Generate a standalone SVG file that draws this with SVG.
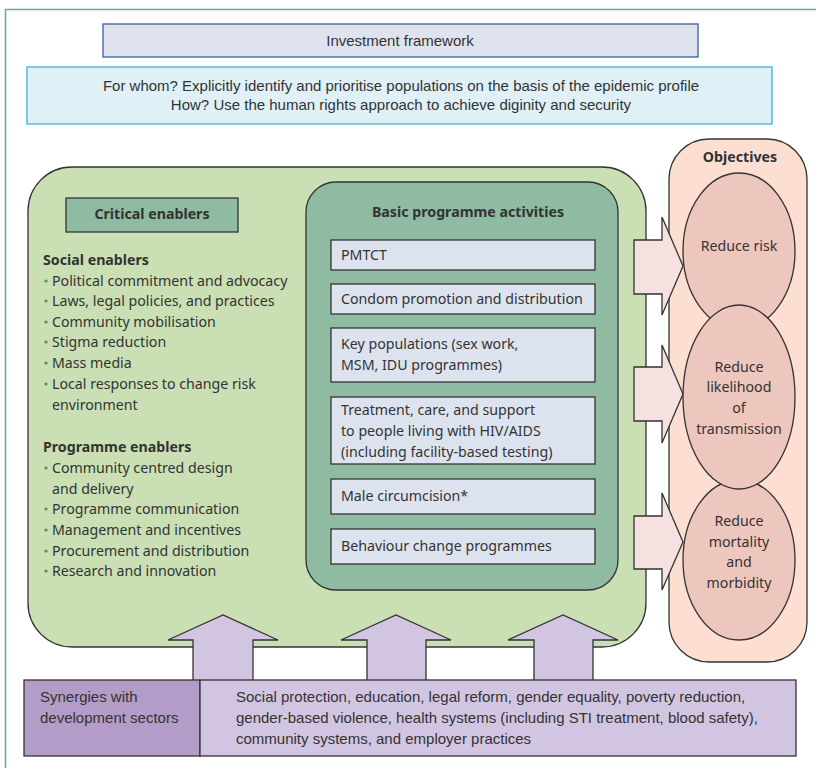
<svg xmlns="http://www.w3.org/2000/svg" width="816" height="768" viewBox="0 0 816 768">
<defs>
<style>
text{font-family:"Noto Sans","Liberation Sans",sans-serif;fill:#333;}
.cond{font-family:"Liberation Sans",Arial,sans-serif;font-size:15px;}
.t{font-size:14.2px;}
.b{font-weight:bold;}
.box{stroke:#333;stroke-width:1.3;}
.item{fill:#dde3ee;stroke:#333;stroke-width:1.3;}
.bul{fill:#3d9a5c;}
.up{fill:#d2c5e1;stroke:#333;stroke-width:1.3;}
.rt{fill:#f5e1df;stroke:#333;stroke-width:1.3;}
.ell{fill:#edc6bd;stroke:#333;stroke-width:1.3;}
</style>
</defs>
<rect width="816" height="768" fill="#fff"/>
<path d="M5.5 768 V9.5 H816" fill="none" stroke="#6aab8e" stroke-width="1.6"/>

<g id="investment">
<rect x="103" y="24" width="595" height="33" fill="#dfe3ee" stroke="#3b5ca8" stroke-width="1.3"/>
<text class="cond" x="400" y="46" text-anchor="middle">Investment framework</text>
</g>
<g id="forwhom">
<rect x="27" y="67" width="745" height="57" fill="#dff1f7" stroke="#3fb3d3" stroke-width="1.3"/>
<text class="cond" x="401" y="91" text-anchor="middle">For whom? Explicitly identify and prioritise populations on the basis of the epidemic profile</text>
<text class="cond" x="401" y="110" text-anchor="middle">How? Use the human rights approach to achieve diginity and security</text>
</g>

<g id="critical">
<rect class="box" x="28" y="167" width="618" height="480" rx="44" fill="#cadfb4"/>
<rect class="box" x="66" y="198" width="172" height="34" fill="#8fbba3"/>
<text class="t b" x="152" y="219" text-anchor="middle">Critical enablers</text>
<text class="t b" x="43" y="265">Social enablers</text>
<g class="t">
<text x="52" y="286">Political commitment and advocacy</text>
<text x="52" y="306">Laws, legal policies, and practices</text>
<text x="52" y="327">Community mobilisation</text>
<text x="52" y="347">Stigma reduction</text>
<text x="52" y="368">Mass media</text>
<text x="52" y="389">Local responses to change risk</text>
<text x="52" y="410">environment</text>
</g>
<text class="t b" x="43" y="452">Programme enablers</text>
<g class="t">
<text x="52" y="473">Community centred design</text>
<text x="52" y="494">and delivery</text>
<text x="52" y="514">Programme communication</text>
<text x="52" y="535">Management and incentives</text>
<text x="52" y="556">Procurement and distribution</text>
<text x="52" y="576">Research and innovation</text>
</g>
<g class="bul">
<circle cx="46" cy="281" r="1.6"/><circle cx="46" cy="301" r="1.6"/><circle cx="46" cy="322" r="1.6"/>
<circle cx="46" cy="342" r="1.6"/><circle cx="46" cy="363" r="1.6"/><circle cx="46" cy="384" r="1.6"/>
<circle cx="46" cy="468" r="1.6"/><circle cx="46" cy="509" r="1.6"/><circle cx="46" cy="530" r="1.6"/>
<circle cx="46" cy="551" r="1.6"/><circle cx="46" cy="571" r="1.6"/>
</g>
</g>

<g id="basic">
<rect class="box" x="306" y="182" width="312" height="408" rx="30" fill="#8fbba3"/>
<text class="t b" x="468" y="217" text-anchor="middle">Basic programme activities</text>
<rect class="item" x="331" y="240" width="264" height="30"/>
<text class="t" x="341" y="260">PMTCT</text>
<rect class="item" x="331" y="284" width="264" height="30"/>
<text class="t" x="341" y="304">Condom promotion and distribution</text>
<rect class="item" x="331" y="328" width="264" height="54"/>
<text class="t" x="341" y="349">Key populations (sex work,</text>
<text class="t" x="341" y="370">MSM, IDU programmes)</text>
<rect class="item" x="331" y="397" width="264" height="67"/>
<text class="t" x="341" y="415">Treatment, care, and support</text>
<text class="t" x="341" y="436">to people living with HIV/AIDS</text>
<text class="t" x="341" y="457">(including facility-based testing)</text>
<rect class="item" x="331" y="479" width="264" height="35"/>
<text class="t" x="341" y="501">Male circumcision*</text>
<rect class="item" x="331" y="529" width="264" height="35"/>
<text class="t" x="341" y="551">Behaviour change programmes</text>
</g>

<g id="objectives">
<rect class="box" x="669" y="139" width="138" height="523" rx="40" fill="#fcdfd0"/>
<text class="t b" x="740" y="162" text-anchor="middle">Objectives</text>
</g>

<g id="connectors">
<polygon class="up" points="193,681 193,640 168,640 223,615 278,640 253,640 253,681"/>
<polygon class="up" points="367,681 367,640 341,640 396,615 451,640 426,640 426,681"/>
<polygon class="up" points="534,681 534,640 508,640 563,615 618,640 593,640 593,681"/>
<polygon class="rt" points="634,240 662,240 662,217 683,266 662,315 662,294 634,294"/>
<polygon class="rt" points="634,367 662,367 662,345 683,394 662,443 662,421 634,421"/>
<polygon class="rt" points="634,516 662,516 662,493 683,542 662,590 662,569 634,569"/>
</g>

<g id="reduce-risk">
<ellipse class="ell" cx="739" cy="251" rx="56" ry="78"/>
<text class="t" x="739" y="251" text-anchor="middle">Reduce risk</text>
</g>
<g id="reduce-mortality">
<ellipse class="ell" cx="739" cy="560" rx="56" ry="80"/>
<text class="t" x="739" y="526" text-anchor="middle">Reduce</text>
<text class="t" x="739" y="547" text-anchor="middle">mortality</text>
<text class="t" x="739" y="567" text-anchor="middle">and</text>
<text class="t" x="739" y="588" text-anchor="middle">morbidity</text>
</g>
<g id="reduce-likelihood">
<ellipse class="ell" cx="739" cy="397" rx="56" ry="92"/>
<text class="t" x="739" y="372" text-anchor="middle">Reduce</text>
<text class="t" x="739" y="392" text-anchor="middle">likelihood</text>
<text class="t" x="739" y="413" text-anchor="middle">of</text>
<text class="t" x="739" y="434" text-anchor="middle">transmission</text>
</g>

<g id="synergies">
<rect class="box" x="24" y="680" width="176" height="76" fill="#b49cc8"/>
<text class="cond" x="40" y="702">Synergies with</text>
<text class="cond" x="40" y="723">development sectors</text>
</g>
<g id="sectors">
<rect class="box" x="200" y="680" width="596" height="76" fill="#d2c5e1"/>
<text class="cond" x="236" y="702">Social protection, education, legal reform, gender equality, poverty reduction,</text>
<text class="cond" x="236" y="723">gender-based violence, health systems (including STI treatment, blood safety),</text>
<text class="cond" x="236" y="744">community systems, and employer practices</text>
</g>
</svg>
